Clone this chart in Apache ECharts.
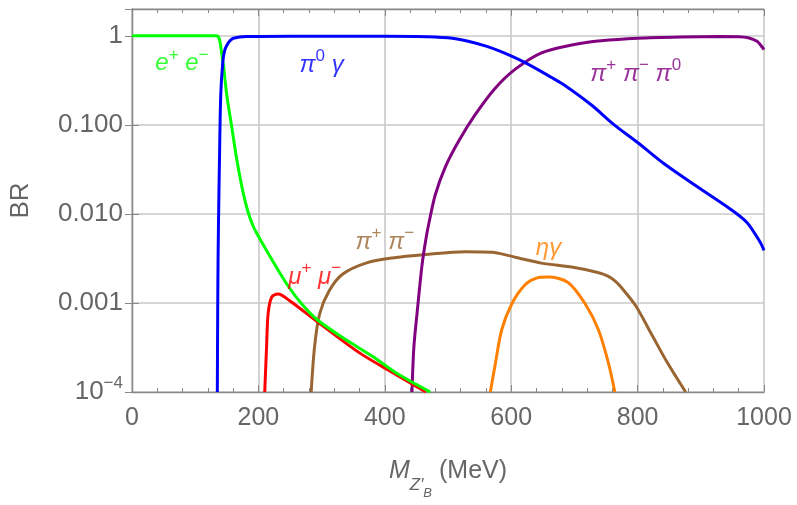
<!DOCTYPE html>
<html>
<head>
<meta charset="utf-8">
<script src="https://cdn.jsdelivr.net/npm/echarts@6/dist/echarts.min.js"></script>
<style>html,body{margin:0;padding:0;background:#fff;overflow:hidden}#c{width:797px;height:505px}</style>
</head>
<body>
<div id="c"></div>
<script>
// ---- data (MeV, branching ratio) ----
const xTicks = [0, 200, 400, 600, 800, 1000];
const yTicks = [1e-4, 1e-3, 1e-2, 1e-1, 1];

const eeData = [[0,1],[130,1],[135,0.995],[138,0.93],[140,0.8],[143,0.55],[145,0.45],[150,0.215],[158,0.093],[166,0.04],[176,0.0171],[184,0.0103],[192,0.0072],[202,0.0053],[218,0.00337],[247,0.00155],[270,0.00095],[294,0.00064],[340,0.00038],[381,0.00025],[420,0.00016],[472,0.0001]];
const pi0gData = [[135.0,1e-4],[135.4,0.0004],[135.9,0.0018],[136.8,0.0074],[138.4,0.04],[140.4,0.215],[143.6,0.5],[146.5,0.68],[149.9,0.78],[155,0.88],[160.4,0.94],[181,0.98],[250,0.99],[400,0.99],[450,0.985],[500,0.95],[532,0.87],[559,0.77],[585,0.66],[622,0.5],[664,0.34],[685,0.277],[727,0.167],[763,0.1],[800,0.0634],[842,0.0366],[894,0.0203],[947,0.0113],[973,0.008],[994,0.0048],[1000,0.0039]];
const pipipi0Data = [[443,1e-4],[446,3.2e-4],[451,7.6e-4],[459,0.0027],[465,0.0052],[470,0.008],[480,0.0165],[496,0.034],[517,0.066],[543,0.13],[574,0.255],[606,0.42],[648,0.645],[700,0.80],[742,0.88],[800,0.94],[868,0.97],[930,0.98],[960,0.975],[975,0.95],[989,0.866],[997,0.75],[1000,0.70]];
const pipiData = [[283.5,1e-4],[289,3.3e-4],[297,7.6e-4],[312,0.00137],[333,0.0021],[370,0.0028],[412,0.0032],[465,0.0035],[527,0.00375],[570,0.0037],[596,0.0034],[620,0.0031],[648,0.0028],[700,0.0025],[737,0.0022],[753,0.002],[765,0.00175],[774,0.0015],[797,0.00093],[821,0.00046],[847,0.000214],[876,1e-4]];
const etagData = [[567,1e-4],[575,2.1e-4],[585,5e-4],[601,9.8e-4],[622,0.0016],[640,0.0019],[659,0.00195],[690,0.0017],[717,9.8e-4],[738,5e-4],[754,2.1e-4],[764,1e-4]];
const mumuData = [[210,1e-4],[213,3.3e-4],[215.4,7.6e-4],[221,0.00116],[231,0.00126],[249.5,0.00106],[294,0.00061],[360,0.000275],[412,0.000166],[465,1e-4]];

// label anchors (data coords)
const labelNames = ['ee','pi0g','pipipi0','pipi','mumu','etag'];
const labelAnchors = [[79,0.49],[300,0.47],[797,0.37],[400,0.00485],[289,0.00195],[659,0.0041]];

const C = {ee:'#00ff00', pi0g:'#0000ff', pipipi0:'#800080', pipi:'#996633', mumu:'#ff0000', etag:'#ff8000'};
const labelText = {
  ee: '{i|e}{s|+}{i| e}{s|−}',
  pi0g: '{i|π}{s|0}{i| γ}',
  pipipi0: '{i|π}{s|+}{i| π}{s|−}{i| π}{s|0}',
  pipi: '{i|π}{s|+}{i| π}{s|−}',
  mumu: '{i|μ}{s|+}{i| μ}{s|−}',
  etag: '{i|ηγ}'
};

const FF = 'Liberation Sans';
function rich(color){
  return {
    i:{fontFamily:FF,fontStyle:'italic',fontSize:24,color:color,lineHeight:34,verticalAlign:'middle'},
    s:{fontFamily:FF,fontSize:17,color:color,verticalAlign:'top'}
  };
}

const chart = echarts.init(document.getElementById('c'), null, {renderer:'canvas'});
const lineSeries = (name, data) => ({
  type:'line', name, data, showSymbol:false, smooth:0.3,
  lineStyle:{color:C[name], width:3}, itemStyle:{color:C[name]}, z:3, silent:true
});

const axisGray = '#888';
const labelGray = '#666';
const option = {
  animation:false,
  grid:{left:128, right:33, top:9, bottom:105},
  xAxis:[{
    type:'value', min:0, max:1000, interval:200,
    axisLine:{lineStyle:{color:axisGray,width:1.3}},
    axisTick:{inside:true,length:7,lineStyle:{color:axisGray}},
    minorTick:{show:true,splitNumber:5,length:4,lineStyle:{color:axisGray}},
    splitLine:{show:true,lineStyle:{color:'#c8c8c8',width:1.6}},
    axisLabel:{color:labelGray,fontSize:25,fontFamily:FF,margin:14,
      formatter:v=> xTicks.indexOf(v)>=0 ? String(v) : ''},
    name:'{m|M}{z|Z′}{b|B}{t| (MeV)}', nameLocation:'middle', nameGap:67,
    nameTextStyle:{rich:{
      m:{fontFamily:FF,fontStyle:'italic',fontSize:25,color:'#666',lineHeight:42,verticalAlign:'top'},
      z:{fontFamily:FF,fontStyle:'italic',fontSize:17,color:'#666',verticalAlign:'bottom',padding:[0,0,7,0]},
      b:{fontFamily:FF,fontStyle:'italic',fontSize:13,color:'#666',verticalAlign:'bottom',padding:[0,0,1,0]},
      t:{fontFamily:FF,fontSize:25,color:'#666',lineHeight:42,verticalAlign:'top'}
    }}
  },{
    type:'value', min:0, max:1000, interval:200, position:'top',
    axisLine:{show:true,lineStyle:{color:axisGray,width:1.3}},
    axisTick:{inside:true,length:7,lineStyle:{color:axisGray}},
    minorTick:{show:true,splitNumber:5,length:4,lineStyle:{color:axisGray}},
    axisLabel:{show:false}, splitLine:{show:false}
  }],
  yAxis:[{
    type:'log', logBase:10, min:1e-4, max:2,
    axisLine:{show:true,lineStyle:{color:axisGray,width:1.3}},
    axisTick:{inside:true,length:7,lineStyle:{color:axisGray}},
    splitLine:{show:true,lineStyle:{color:'#c8c8c8',width:1.6}},
    axisLabel:{color:labelGray,fontSize:26,fontFamily:FF,margin:9,showMaxLabel:false,
      formatter:v=>{
        const e = Math.log10(v);
        const r = Math.round(e);
        if (Math.abs(e-r)>1e-6) return '';
        const idx = yTicks.findIndex(t=>Math.abs(Math.log10(t)-r)<1e-6);
        if (idx<0) return '';
        if (r===0) return '1';
        if (r===-1) return '0.100';
        if (r===-2) return '0.010';
        if (r===-3) return '0.001';
        return '{b|10}{s|−4}';
      },
      rich:{b:{fontSize:26,color:labelGray,fontFamily:FF,lineHeight:34,verticalAlign:'middle'},
            s:{fontSize:17,color:labelGray,fontFamily:FF,verticalAlign:'top'}}
    },
    name:'BR', nameLocation:'middle', nameGap:98,
    nameTextStyle:{color:'#666',fontSize:26,fontFamily:FF}
  },{
    type:'log', logBase:10, min:1e-4, max:2, position:'right',
    axisLine:{show:true,lineStyle:{color:axisGray,width:1.3}},
    axisTick:{inside:true,length:7,lineStyle:{color:axisGray}},
    axisLabel:{show:false}, splitLine:{show:false}
  }],
  series:[
    lineSeries('pipi', pipiData),
    lineSeries('etag', etagData),
    lineSeries('pipipi0', pipipi0Data),
    lineSeries('mumu', mumuData),
    lineSeries('ee', eeData),
    lineSeries('pi0g', pi0gData),
    {
      type:'scatter', symbolSize:0, silent:true, z:5,
      data: labelNames.map((n,k)=>({
        value: labelAnchors[k],
        label:{show:true, position:'inside', formatter:labelText[n], rich:rich(C[n])}
      }))
    }
  ]
};
chart.setOption(option);
</script>
</body>
</html>
